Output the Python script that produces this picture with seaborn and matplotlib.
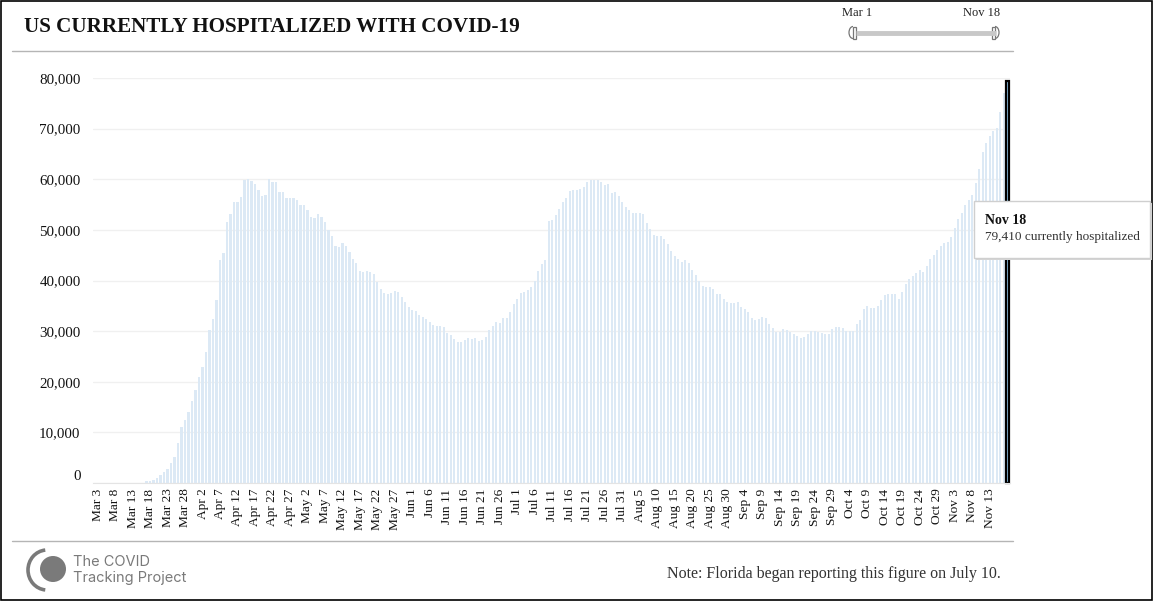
import numpy as np
import pandas as pd
import seaborn as sns
import matplotlib.pyplot as plt
import matplotlib.transforms as mtransforms
from matplotlib.patches import Rectangle, Circle, Arc
from matplotlib.lines import Line2D

# ===============================
# 1. Data
# ===============================
mar_values = [0] * 14 + [460, 460, 650, 1050, 1650, 2240, 2830, 4000, 5200, 8000,
                         11100, 12500, 14100, 16100, 18300]  # Mar 3 - Mar 31
apr_values = [21000, 23000, 25800, 30300, 32300, 36200, 44000, 45500, 51500, 53200,
              55600, 55600, 56400, 59800, 60000, 59600, 59000, 57800, 56600, 56800,
              60000, 59400, 59400, 57400, 57400, 56200, 56200, 56200, 56000, 55000]
may_values = [55000, 54000, 52600, 52400, 53200, 52600, 51500, 49900, 48700, 46900,
              46700, 47500, 46900, 45700, 44300, 43400, 41800, 41600, 41800, 41600,
              41200, 39800, 38400, 37600, 37400, 37600, 38000, 37800, 36800, 35700, 34700]
jun_values = [34100, 33900, 33100, 32700, 32300, 31900, 31300, 31100, 31100, 30900,
              29700, 29300, 28500, 27900, 27900, 28300, 28700, 28500, 28700, 28100,
              28300, 28900, 30300, 31100, 31900, 31700, 32500, 32500, 33700, 35300]
jul_values = [36400, 37600, 37800, 38200, 38800, 40000, 41800, 43200, 44000, 51700,
              51900, 52900, 54200, 55600, 56200, 57600, 57800, 57800, 58000, 58400,
              59400, 59800, 59800, 59800, 59400, 58800, 59000, 57200, 57400, 56600, 55600]
aug_values = [54600, 54000, 53400, 53400, 53400, 53200, 51300, 50100, 48900, 48700,
              48700, 48100, 47300, 45900, 44900, 44200, 43600, 44000, 43400, 42000,
              41000, 40000, 39000, 38800, 38800, 38400, 37400, 37400, 36400, 35800, 35500]
sep_values = [35500, 35700, 34700, 34300, 33700, 32500, 32100, 32300, 32700, 32500,
              31500, 30700, 29900, 29900, 30500, 30300, 29900, 29500, 29100, 28700,
              28900, 29500, 30100, 30100, 29900, 29700, 29500, 29500, 30500, 30900]
oct_values = [30900, 30700, 30100, 30100, 30100, 31500, 32200, 34400, 35000, 34600,
              34600, 35000, 36200, 37200, 37400, 37400, 37400, 36400, 37800, 39300,
              40300, 40900, 41500, 42100, 41700, 42900, 44300, 45100, 46100, 46800, 47400]
nov_values = [47600, 48600, 50400, 52200, 53400, 54900, 55900, 56900, 59300, 62000,
              65400, 67200, 68600, 69600, 70100, 73300, 77100, 79410]

hospitalized = (mar_values + apr_values + may_values + jun_values + jul_values
                + aug_values + sep_values + oct_values + nov_values)
dates = pd.date_range("2020-03-03", "2020-11-18", freq="D")
day_labels = [f"{d:%b} {d.day}" for d in dates]
y_ticks = [0, 10000, 20000, 30000, 40000, 50000, 60000, 70000, 80000]

df = pd.DataFrame({"day": day_labels, "hospitalized": hospitalized})

# ===============================
# 2. Style
# ===============================
sns.set_style("white")
plt.rcParams["font.family"] = ["Liberation Serif", "DejaVu Serif"]

W, H = 1154, 601
fig = plt.figure(figsize=(W / 100, H / 100), dpi=100)
ax = fig.add_axes([93 / W, 1 - 483 / H, (1010 - 93) / W, (483 - 78) / H])

sns.barplot(data=df, x="day", y="hospitalized", order=day_labels,
            color="#dce9f5", saturation=1, width=0.6,
            edgecolor="none", linewidth=0, ax=ax)

# highlight the last bar
last = ax.patches[-1]
cx = last.get_x() + last.get_width() / 2
last.set_width(0.9)
last.set_x(cx - 0.45)
last.set_facecolor("#8ec3ea")
last.set_edgecolor("black")
last.set_linewidth(1.6)
last.set_clip_on(False)

ax.set_xlim(-1.3, 260.8)
ax.set_ylim(0, 80000)
ax.set_yticks(y_ticks)
ax.set_yticklabels([f"{v:,}" for v in y_ticks], fontsize=10.8, color="#111")
ax.set_xticks(range(0, len(day_labels) - 1, 5))
ax.set_xticklabels(day_labels[:-1:5], rotation=90, fontsize=9.6, color="#111")
ax.tick_params(axis="x", length=0, pad=4)
ax.tick_params(axis="y", length=0, pad=9)
ax.set_xlabel("")
ax.set_ylabel("")
ax.grid(axis="y", color="#f0f0f0", linewidth=1)
ax.set_axisbelow(True)
for s in ["top", "right", "left"]:
    ax.spines[s].set_visible(False)
ax.spines["bottom"].set_color("#e4e4e4")

# the zero label sits a little above the baseline
zero_lbl = ax.get_yticklabels()[0]
zero_lbl.set_transform(zero_lbl.get_transform()
                       + mtransforms.ScaledTranslation(0, 8 / 100, fig.dpi_scale_trans))

# ===============================
# 3. Decorations (pixel overlay)
# ===============================
ov = fig.add_axes([0, 0, 1, 1], zorder=5)
ov.set_xlim(0, W)
ov.set_ylim(H, 0)
ov.axis("off")
ov.patch.set_alpha(0)

ov.add_patch(Rectangle((0.5, 0.5), W - 2.5, H - 1.5, fill=False, edgecolor="black", linewidth=1.2))
ov.text(24, 27, "US CURRENTLY HOSPITALIZED WITH COVID-19", fontsize=15.2,
        fontweight="bold", va="center", ha="left", color="#111")
ov.add_line(Line2D([12, 1013], [51, 51], color="#b5b5b5", linewidth=1))
ov.add_line(Line2D([12, 1013], [541, 541], color="#b5b5b5", linewidth=1))

# slider
ov.text(857, 13, "Mar 1", fontsize=9, ha="center", va="center", color="#222")
ov.text(982, 13, "Nov 18", fontsize=9, ha="center", va="center", color="#222")
ov.add_line(Line2D([856, 996], [32.5, 32.5], color="#c8c8c8", linewidth=3.5, solid_capstyle="butt"))
ov.add_patch(Rectangle((853, 26.5), 3, 12, facecolor="white", edgecolor="#777", linewidth=0.9))
ov.add_patch(Arc((853, 32.5), 8, 12, theta1=90, theta2=270, edgecolor="#777", linewidth=0.9))
ov.add_patch(Rectangle((992, 26.5), 3, 12, facecolor="white", edgecolor="#777", linewidth=0.9))
ov.add_patch(Arc((995, 32.5), 8, 12, theta1=-90, theta2=90, edgecolor="#777", linewidth=0.9))

# tooltip
ov.add_patch(Rectangle((976, 203), 176, 57, facecolor="#d6d6d6", edgecolor="none"))
ov.add_patch(Rectangle((974, 201), 176, 57, facecolor="white", edgecolor="#cfcfcf", linewidth=1))
ov.text(985, 220, "Nov 18", fontsize=10, fontweight="bold", va="center", color="#111")
ov.text(985, 237, "79,410 currently hospitalized", fontsize=9.5, va="center", color="#333")

# footer logo + note
ov.add_patch(Arc((47, 570), 38, 40, theta1=95, theta2=265, edgecolor="#7a7a7a", linewidth=2.6))
ov.add_patch(Circle((53, 569), 13, facecolor="#7a7a7a", edgecolor="none"))
ov.text(73, 562, "The COVID", fontsize=10.5, family=["Inter", "DejaVu Sans"], color="#7a7a7a", va="center")
ov.text(73, 578, "Tracking Project", fontsize=10.5, family=["Inter", "DejaVu Sans"], color="#7a7a7a", va="center")
ov.text(1001, 574, "Note: Florida began reporting this figure on July 10.", fontsize=11.5,
        ha="right", va="center", color="#333")

plt.savefig("out.png", dpi=100)
